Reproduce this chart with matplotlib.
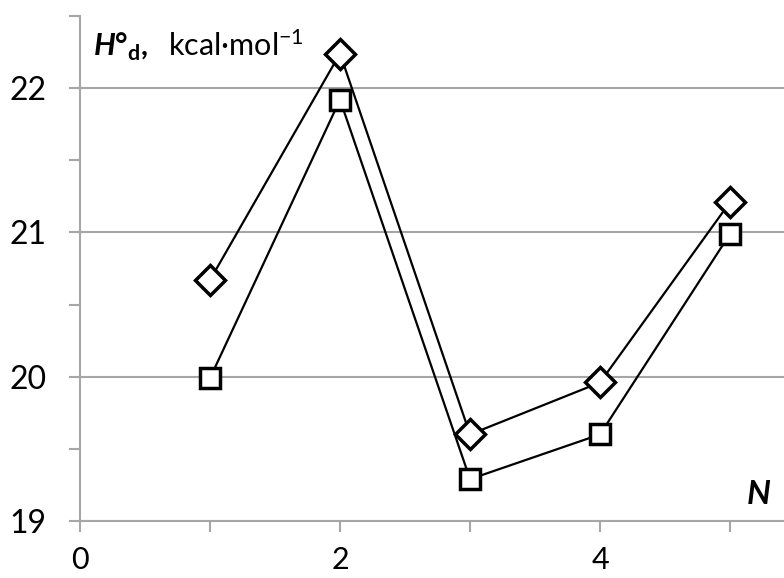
import matplotlib.pyplot as plt
from matplotlib.ticker import MultipleLocator

n_vals = [1, 2, 3, 4, 5]
h_diamond = [20.67, 22.24, 19.60, 19.96, 21.21]
h_square = [19.99, 21.92, 19.29, 19.60, 20.99]

x_ticks = [0, 2, 4]
y_ticks = [19, 20, 21, 22]

plt.rcParams['font.family'] = ['Lato', 'DejaVu Sans']
plt.rcParams['mathtext.fontset'] = 'custom'
plt.rcParams['mathtext.rm'] = 'Lato'
plt.rcParams['mathtext.bf'] = 'Lato:bold'
plt.rcParams['mathtext.bfit'] = 'Lato:italic:bold'
plt.rcParams['mathtext.it'] = 'Lato:italic'

fig = plt.figure(figsize=(7.84, 5.78), dpi=100)
ax = fig.add_axes([80 / 784, 57 / 578, 1 - 80 / 784, (521 - 16) / 578])

ax.plot(n_vals, h_diamond, '-', color='k', lw=1.6, marker='D', ms=15,
        mfc='white', mec='k', mew=2.5, zorder=3)
ax.plot(n_vals, h_square, '-', color='k', lw=1.6, marker='s', ms=14,
        mfc='white', mec='k', mew=2.5, zorder=3)

ax.set_xlim(0, 5.415)
ax.set_ylim(19, 22.5)
ax.set_xticks(x_ticks)
ax.xaxis.set_minor_locator(MultipleLocator(1))
ax.set_yticks(y_ticks)
ax.yaxis.set_minor_locator(MultipleLocator(0.5))
ax.grid(axis='y', which='major', color='#a6a6a6', lw=1.5)
ax.set_axisbelow(True)

for s in ['top', 'right']:
    ax.spines[s].set_visible(False)
for s in ['left', 'bottom']:
    ax.spines[s].set_color('#a6a6a6')
    ax.spines[s].set_linewidth(1.5)

ax.tick_params(which='both', direction='out', length=8, width=1.5, color='#a6a6a6')
ax.tick_params(axis='x', labelsize=22, pad=10)
ax.tick_params(axis='y', labelsize=23, pad=16)

ax.text(0.10, 22.22, r'$\mathbfit{H}\mathbf{°_{d},}$  kcal·mol$^{\mathrm{-1}}$',
        fontsize=22, ha='left', va='baseline')
ax.text(5.12, 19.12, r'$\mathbfit{N}$', fontsize=24, ha='left', va='baseline')

fig.savefig('out.png', dpi=100)
